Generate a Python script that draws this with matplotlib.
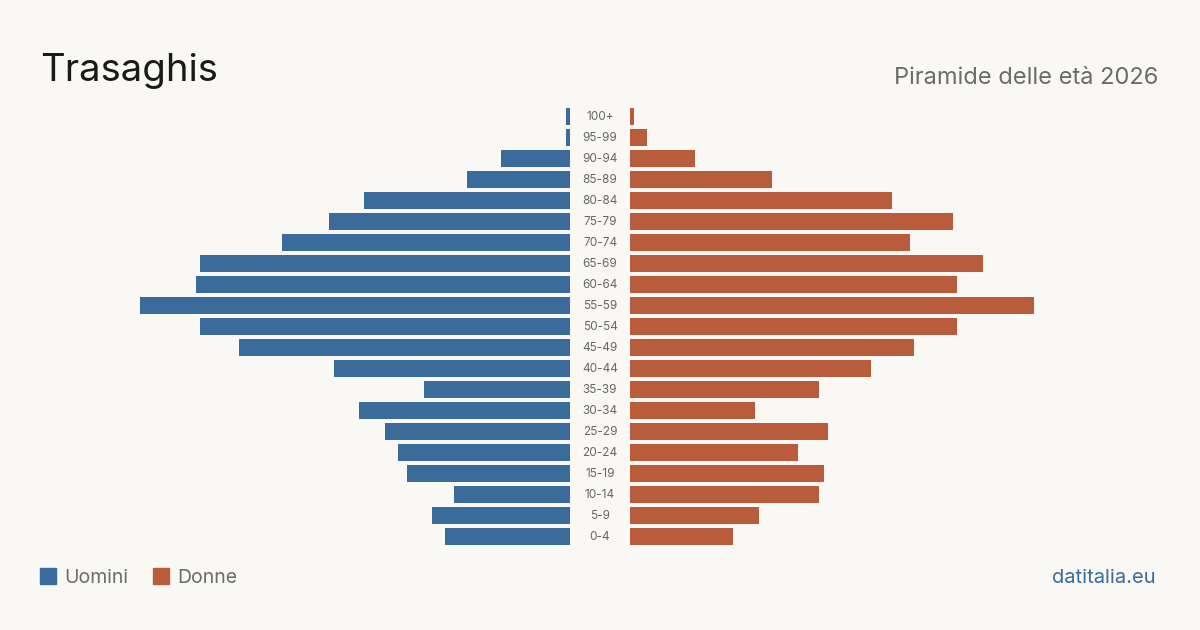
import numpy as np
from matplotlib import pyplot as plt

plt.rcParams['font.family'] = ['Inter', 'DejaVu Sans']

eta = ["0-4", "5-9", "10-14", "15-19", "20-24", "25-29", "30-34", "35-39",
       "40-44", "45-49", "50-54", "55-59", "60-64", "65-69", "70-74",
       "75-79", "80-84", "85-89", "90-94", "95-99", "100+"]
uomini = [29, 32, 27, 38, 40, 43, 49, 34, 55, 77, 86, 100, 87, 86, 67,
          56, 48, 24, 16, 1, 1]
donne = [24, 30, 44, 45, 39, 46, 29, 44, 56, 66, 76, 94, 76, 82, 65,
         75, 61, 33, 15, 4, 1]

bg = "#f9f8f4"
blu = "#3b6b9b"
rosso = "#b95c3c"

W, H = 1200, 630
fig = plt.figure(figsize=(12, 6.3), dpi=100, facecolor=bg)

k = 4.3  # pixel per persona
y_top, y_bot = 116.5, 536.5  # centri delle barre (px)
n = len(eta)
pitch = (y_bot - y_top) / (n - 1)
ax_bottom = H - (y_bot + pitch / 2)
ax_height = pitch * n

def make_ax(x0, x1):
    a = fig.add_axes([x0 / W, ax_bottom / H, (x1 - x0) / W, ax_height / H])
    a.set_facecolor("none")
    for s in a.spines.values():
        s.set_visible(False)
    a.set_xticks([])
    a.set_yticks([])
    a.set_ylim(-0.5, n - 0.5)
    return a

y = np.arange(n)
axl = make_ax(40, 570)
axl.barh(y, uomini, height=0.8, color=blu)
axl.set_xlim(530 / k, 0)

axr = make_ax(630, 1160)
axr.barh(y, donne, height=0.8, color=rosso)
axr.set_xlim(0, 530 / k)

for i, lab in enumerate(eta):
    yp = y_top + (n - 1 - i) * pitch
    fig.text(600 / W, 1 - (yp + 0.5) / H, lab, ha="center", va="center",
             fontsize=8.5, color="#666666")

fig.text(40 / W, 1 - 81 / H, "Trasaghis", fontsize=27.5, color="#1a1a1a",
         ha="left", va="baseline")
fig.text(1158 / W, 1 - 84 / H, "Piramide delle età 2026", fontsize=17,
         color="#6b6b6b", ha="right", va="baseline")

fig.patches.append(plt.Rectangle((40 / W, 1 - 584 / H), 16 / W, 16 / H,
                                 transform=fig.transFigure, color=blu))
fig.text(64 / W, 1 - 583 / H, "Uomini", fontsize=14, color="#6b6b6b",
         ha="left", va="baseline")
fig.patches.append(plt.Rectangle((153 / W, 1 - 584 / H), 16 / W, 16 / H,
                                 transform=fig.transFigure, color=rosso))
fig.text(177 / W, 1 - 583 / H, "Donne", fontsize=14, color="#6b6b6b",
         ha="left", va="baseline")
fig.text(1156 / W, 1 - 583 / H, "datitalia.eu", fontsize=14.5, color=blu,
         ha="right", va="baseline")

fig.savefig("out.png", dpi=100, facecolor=bg)
